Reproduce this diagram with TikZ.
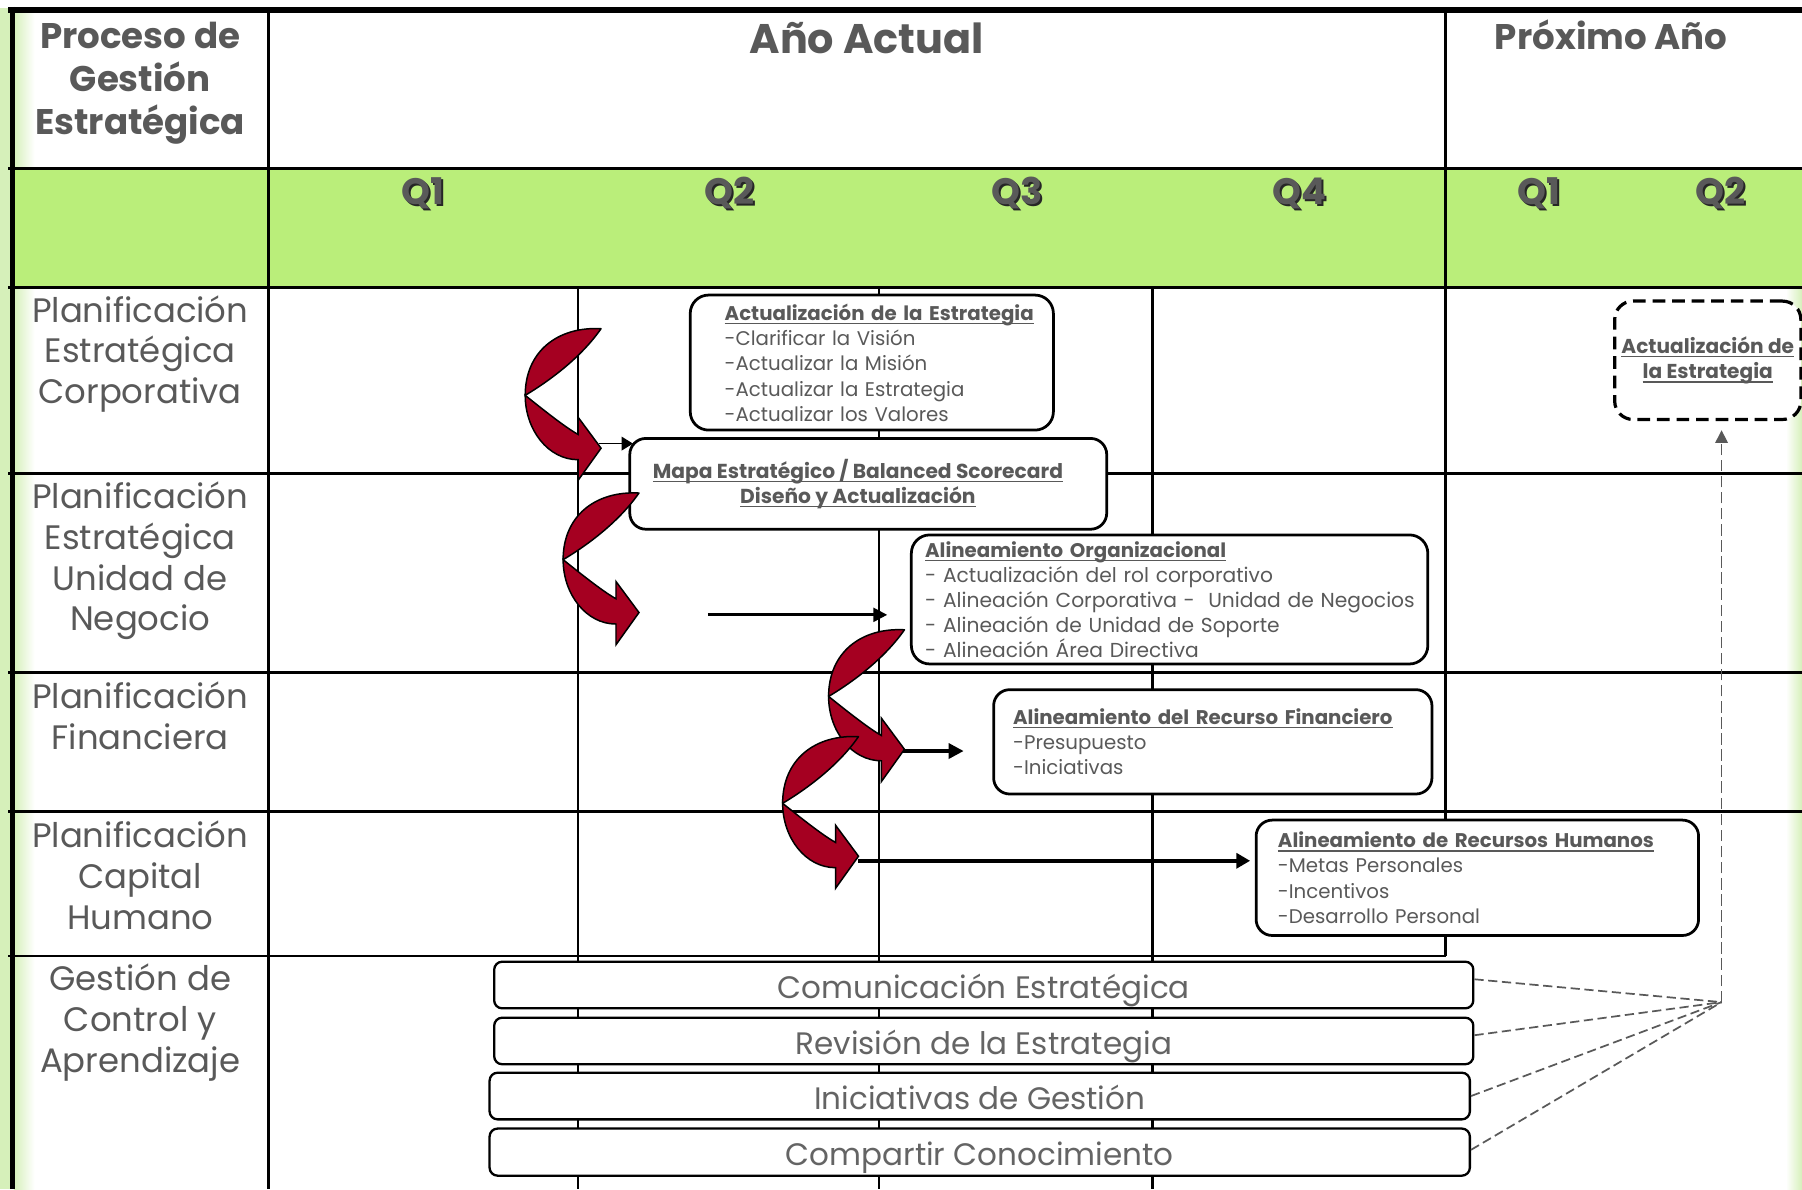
\documentclass[tikz,border=0pt]{standalone}
\usepackage{fontspec}
\setmainfont{Poppins}
\usetikzlibrary{arrows.meta}

\definecolor{bandgreen}{RGB}{186,238,122}
\definecolor{palegreen}{RGB}{214,240,186}
\definecolor{ink}{RGB}{89,89,89}
\definecolor{barink}{RGB}{100,100,100}
\definecolor{wine}{RGB}{165,0,33}
\newcommand{\fs}[2]{\fontsize{#1}{#2}\selectfont}
\newsavebox{\ulbox}
\newcommand{\uln}[1]{\sbox\ulbox{#1}\rlap{\rule[-0.2em]{\wd\ulbox}{0.07em}}\usebox\ulbox}

\tikzset{
  curvedarrow/.pic={
    % back crescent
    \filldraw[fill=wine, draw=black, line width=1.3pt, line join=round]
      (66,-58) .. controls (28,-60) and (0,-38) .. (0,0)
      .. controls (25,-15) and (50,-35) .. (66,-58) -- cycle;
    % front band with head
    \filldraw[fill=wine, draw=black, line width=1.3pt, line join=miter]
      (0,0) .. controls (15,12) and (35,28) .. (46,34)
      -- (46,19) -- (66,46) -- (46,74) -- (46,56)
      .. controls (20,56) and (0,30) .. (0,0) -- cycle;
  }
}

\newcommand{\qmark}[4]{%
  \node[qshadow] (#1sh) at (#2+1.8,#3+1.8) {#4};
  \node[qtext] (#1) at (#2,#3) {#4};}

\begin{document}
\begin{tikzpicture}[x=1pt,y=-1pt,
  gridline/.style={line width=2.2pt, draw=black},
  card/.style={draw=black, line width=2.4pt, rounded corners=16pt, fill=white,
    inner ysep=0pt, align=left, text=ink, font=\fs{17.2}{22}},
  bar/.style={draw=black, line width=2pt, rounded corners=7pt, fill=white,
    inner sep=0pt, text=barink, font=\fs{27}{30}, text height=24pt, text depth=0pt},
  rowlab/.style={text=ink, align=center, font=\fs{29.5}{35.5}},
  headlab/.style={text=ink, align=center, font=\bfseries\fs{31}{37.5}},
  qshadow/.style={text=black!85, font=\bfseries\fs{32}{36}},
  qtext/.style={text=ink, font=\bfseries\fs{32}{36}},
  link/.style={draw=ink, line width=1.5pt, dash pattern=on 8pt off 4pt},
]
\useasboundingbox (0,0) rectangle (1568,1035);
\fill[white] (0,0) rectangle (1568,1035);

% pale side strips and quarter band
\fill[palegreen] (0,7) rectangle (9,1035);
\shade[left color=palegreen, right color=white] (12,12) rectangle (30,1035);
\shade[left color=white, right color=palegreen] (1554,250) rectangle (1568,1035);
\fill[bandgreen] (12,146) rectangle (1568,250);

% grid
\draw[line width=5.5pt] (7,8.7) -- (1568,8.7);
\draw[line width=4.3pt] (10.5,6) -- (10.5,1035);
\foreach \yy in {146.5,250,412,585,706} \draw[gridline] (7,\yy) -- (1568,\yy);
\draw[gridline] (7,832) -- (1258,832);
\draw[gridline] (233.5,9) -- (233.5,1035);
\draw[gridline] (1258,9) -- (1258,832);
\foreach \xx in {503,765,1003} \draw[gridline] (\xx,250) -- (\xx,1035);

% headers
\node[headlab] (hproc) at (122,72.5) {Proceso de\\Gestión\\Estratégica};
\node[headlab, font=\bfseries\fs{36}{40}] (hcur) at (754,33) {Año Actual};
\node[headlab, font=\bfseries\fs{31}{36}] (hnext) at (1402,30.5) {Próximo Año};

\qmark{qa}{368}{168}{Q1}
\qmark{qb}{635}{168}{Q2}
\qmark{qc}{885}{168}{Q3}
\qmark{qd}{1131}{168}{Q4}
\qmark{qe}{1339}{168}{Q1}
\qmark{qf}{1497}{168}{Q2}

% process rows
\node[rowlab] (rcorp) at (122,308) {Planificación\\Estratégica\\Corporativa};
\node[rowlab] (rbu) at (122,488) {Planificación\\Estratégica\\Unidad de\\Negocio};
\node[rowlab] (rfin) at (122,623) {Planificación\\Financiera};
\node[rowlab] (rhum) at (122,761.5) {Planificación\\Capital\\Humano};
\node[rowlab] (rctl) at (122,890) {Gestión de\\Control y\\Aprendizaje};

% activity cards
\node[card, minimum width=316pt, minimum height=117.5pt, text width=256pt, inner xsep=30pt]
  (upd) at (758.6,315.5)
  {\mbox{\bfseries\uln{Actualización de la Estrategia}}\\
   \mbox{-Clarificar la Visión}\\
   \mbox{-Actualizar la Misión}\\
   \mbox{-Actualizar la Estrategia}\\
   \mbox{-Actualizar los Valores}};

\node[card, align=center, rounded corners=14pt, minimum width=415pt, minimum height=79pt,
  font=\bfseries\fs{17.6}{22}]
  (mapa) at (755.5,421)
  {\uln{Mapa Estratégico / Balanced Scorecard}\hspace*{18pt}\\\uln{Diseño y Actualización}\hspace*{18pt}};

\node[card, minimum width=449.4pt, minimum height=112.3pt, text width=425.4pt, inner xsep=12pt,
  font=\fs{17.6}{21.8}]
  (org) at (1017.7,521.6)
  {\mbox{\fs{17.2}{21.8}\bfseries\uln{Alineamiento Organizacional}}\\
   \mbox{- Actualización del rol corporativo}\\
   \mbox{- Alineación Corporativa -\ \ Unidad de Negocios}\\
   \mbox{- Alineación de Unidad de Soporte}\\
   \mbox{- Alineación Área Directiva}};

\node[card, rounded corners=14pt, minimum width=381.4pt, minimum height=90.8pt, text width=347.4pt, inner xsep=17pt]
  (fin) at (1055.3,645.5)
  {\mbox{\bfseries\uln{Alineamiento del Recurso Financiero}}\\
   \mbox{-Presupuesto}\\
   \mbox{-Iniciativas}};

\node[card, rounded corners=14pt, minimum width=385pt, minimum height=100.4pt, text width=347pt, inner xsep=19pt]
  (rrhh) at (1285.5,763.8)
  {\mbox{\bfseries\uln{Alineamiento de Recursos Humanos}}\\
   \mbox{-Metas Personales}\\
   \mbox{-Incentivos}\\
   \mbox{-Desarrollo Personal}};

\node[card, align=center, draw=black, line width=2.8pt, dash pattern=on 11pt off 6pt,
  minimum width=162pt, minimum height=103pt, inner xsep=0pt, font=\bfseries\fs{17.5}{22}]
  (next) at (1486,313.5)
  {\uln{Actualización de}\\\uln{la Estrategia}};

% control and learning bars
\node[bar, minimum width=852pt, minimum height=40.6pt] (com) at (856,857.1) {Comunicación Estratégica};
\node[bar, minimum width=852pt, minimum height=40.5pt] (rev) at (856,905.8) {Revisión de la Estrategia};
\node[bar, minimum width=853pt, minimum height=40.6pt] (ini) at (852.5,953.7) {Iniciativas de Gestión};
\node[bar, minimum width=853pt, minimum height=41pt] (comp) at (852.5,1002.5) {Compartir Conocimiento};

% curved flow arrows
\pic (arrA) at (457,344) {curvedarrow};
\pic (arrB) at (490,487) {curvedarrow};
\pic (arrC) at (721,606) {curvedarrow};
\pic (arrD) at (681,699) {curvedarrow};

\coordinate (fromA) at (521,386);
\coordinate (fromB) at (616,535);
\coordinate (toB) at (772,535);
\coordinate (fromC) at (786,653.5);
\coordinate (toC) at (838.5,653.5);
\coordinate (fromD) at (747,749);

\draw[line width=1.3pt, -{Triangle[length=10pt,width=12pt]}] (fromA) -- ([xshift=4pt]mapa.west |- fromA);
\draw[line width=2.4pt, -{Triangle[length=12pt,width=12pt]}] (fromB) -- (toB);
\draw[line width=3pt, -{Triangle[length=13pt,width=13pt]}] (fromC) -- (toC);
\draw[line width=3.5pt, -{Triangle[length=12pt,width=13pt]}] (fromD) -- ([xshift=-4pt]rrhh.west |- fromD);

% feedback to next year's update
\coordinate (hub) at (1498,872);
\draw[link] ([yshift=5pt]com.east) -- (hub);
\draw[link] ([yshift=5pt]rev.east) -- (hub);
\draw[link] (ini.east) -- (hub);
\draw[link] ([yshift=2pt]comp.east) -- (hub);
\draw[draw=ink, line width=1pt, dash pattern=on 10pt off 4pt, shorten >=8pt,
  -{Triangle[length=11pt,width=11pt]}] (hub) -- (hub |- next.south);
\end{tikzpicture}
\end{document}
